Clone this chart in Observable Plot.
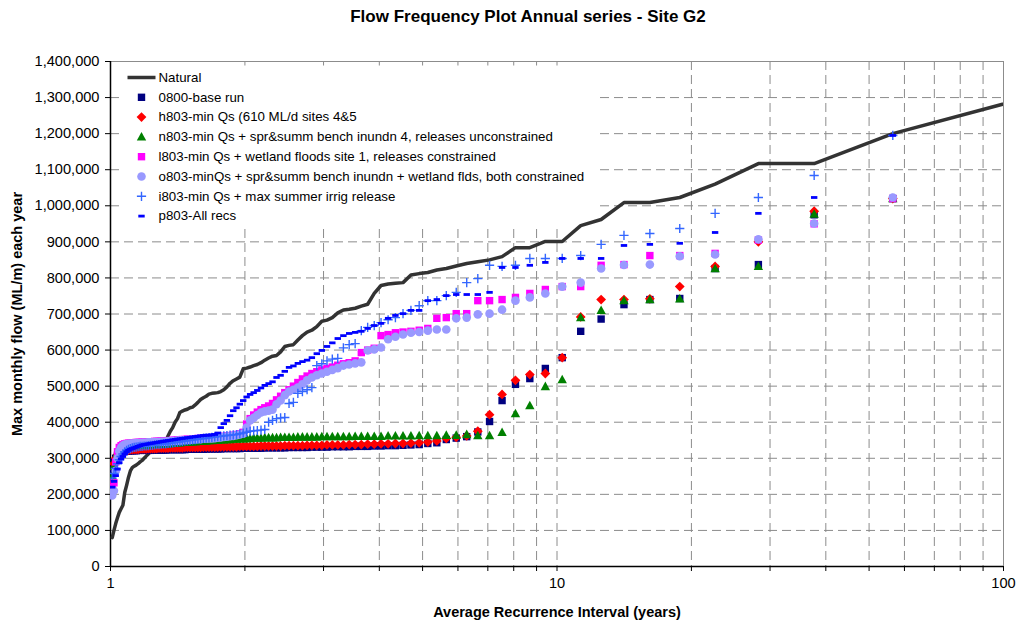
<!DOCTYPE html>
<html><head><meta charset="utf-8">
<script src="https://cdn.jsdelivr.net/npm/d3@7"></script>
<script src="https://cdn.jsdelivr.net/npm/@observablehq/plot@0.6"></script>
<style>
body{margin:0;background:#fff;font-family:Arial,"Liberation Sans",sans-serif;}
#wrap{position:relative;width:1018px;height:623px;}
#title{position:absolute;top:7px;left:228px;width:600px;text-align:center;font-weight:bold;font-size:17px;color:#000;}
</style></head><body>
<div id="wrap"><div id="chart"></div><div id="title">Flow Frequency Plot Annual series - Site G2</div></div>
<script>
// Annual maxima (thousand ML/m), sorted by rank 1..112 (null = point not shown)
const natural = [1300,1200,1117,1117,1060,1023,1009,1009,962,945,
901,901,884,884,859,850,845,840,833,826,
822,815,812,808,787,785,783,779,757,727,
722,716,713,711,703,690,683,680,665,655,
650,640,628,615,613,610,595,585,583,578,
572,565,560,557,553,550,548,525,520,515,
508,498,490,485,482,481,480,478,472,468,
463,455,448,442,440,436,434,431,427,410,
400,385,375,362,345,340,336,332,328,325,
322,318,312,306,300,294,290,285,281,278,
274,265,247,225,205,170,160,150,135,119,
100,80];
const baseRun = [null,1020,975,837,826,743,740,726,686,652,
579,549,521,505,460,402,373,360,356,352,
343,341,338,337,336,335,335,334,334,333,
333,333,332,332,332,332,331,331,331,331,
330,330,330,330,330,329,329,329,329,329,
329,328,328,328,328,328,328,327,327,327,
327,327,327,326,326,326,326,326,326,325,
325,325,325,325,325,325,324,324,324,324,
324,324,324,324,323,323,323,323,323,323,
323,322,322,322,322,322,322,322,321,321,
321,321,320,320,319,318,316,313,308,300,
290,268];
const h803 = [null,1020,985,900,832,776,742,740,740,692,
579,535,532,516,477,421,375,362,358,355,
348,345,343,342,341,341,340,340,339,339,
338,338,338,337,337,337,337,336,336,336,
336,335,335,335,335,335,334,334,334,334,
334,334,333,333,333,333,333,333,332,332,
332,332,332,332,331,331,331,331,331,331,
330,330,330,330,330,330,330,329,329,329,
329,329,329,328,328,328,328,328,327,327,
327,327,327,326,326,326,326,325,325,325,
324,324,323,322,321,320,318,315,310,300,
285,228];
const n803 = [null,1020,977,832,826,742,740,737,710,690,
518,499,446,424,372,363,363,366,364,364,
363,363,363,362,362,362,362,361,361,361,
361,361,360,360,360,360,360,360,359,359,
359,359,359,358,358,358,358,357,357,357,
357,356,356,356,355,355,354,354,353,353,
352,352,351,351,350,350,349,349,348,348,
347,347,346,346,345,345,344,344,343,343,
342,342,341,341,340,340,340,339,339,339,
338,338,338,337,337,337,336,336,336,335,
335,335,334,334,333,332,330,326,318,302,
278,250];
const l803 = [null,1020,950,905,868,862,862,837,835,776,
776,768,757,746,740,737,737,701,701,690,
688,660,655,652,650,648,643,640,605,600,
593,570,565,562,558,553,549,545,540,535,
528,520,510,500,490,482,472,462,452,445,
440,435,428,420,410,395,372,368,366,364,
363,362,361,360,359,358,357,357,356,356,
355,355,354,354,353,353,352,352,351,351,
350,350,349,349,348,348,348,347,347,347,
346,346,346,345,345,345,344,344,344,343,
343,342,342,341,340,338,335,330,318,290,
232,219];
const o803 = [null,1023,951,907,865,860,837,836,826,787,
776,757,746,737,712,701,699,690,688,657,
657,654,650,648,643,637,630,607,602,599,
566,563,560,557,550,545,540,535,530,524,
516,505,496,490,485,475,460,450,435,432,
430,427,420,412,405,385,368,366,364,362,
361,360,359,358,357,356,355,355,354,354,
353,353,352,352,351,351,350,350,349,349,
348,348,347,347,346,346,346,345,345,345,
344,344,344,343,343,343,342,342,342,341,
341,340,340,339,338,335,330,320,300,265,
210,197];
const i803 = [null,1195,1084,1023,979,937,923,918,893,862,
854,854,854,835,832,835,798,787,760,751,
737,737,723,710,701,690,684,676,668,663,
654,618,615,606,577,575,570,562,557,496,
490,485,480,455,452,413,412,410,405,400,
380,378,377,376,375,372,370,368,366,365,
364,363,362,361,360,359,358,357,356,355,
354,353,352,351,350,349,348,347,346,345,
344,343,342,341,340,340,339,338,338,337,
336,336,335,334,334,333,333,332,331,330,
329,327,325,322,318,312,305,296,285,272,
258,245];
const p803 = [null,1195,1023,979,926,896,893,890,854,854,
854,843,835,829,829,760,754,754,754,751,
740,737,710,710,701,696,688,674,668,660,
652,649,646,640,632,620,610,599,590,579,
572,568,563,556,552,541,530,524,512,507,
502,495,488,482,477,470,460,450,440,432,
418,405,396,385,370,366,365,364,364,363,
362,361,360,359,358,357,356,355,354,353,
352,351,350,349,348,347,346,345,344,343,
342,341,340,339,338,337,335,333,331,329,
327,325,322,318,312,305,298,288,270,252,
236,220];

const seriesNames = ["Natural","0800-base run","h803-min Qs (610 ML/d sites 4&5",
 "n803-min Qs + spr&summ bench inundn 4, releases unconstrained",
 "l803-min Qs + wetland floods site 1, releases constrained",
 "o803-minQs + spr&summ bench inundn + wetland flds, both constrained",
 "i803-min Qs + max summer irrig release","p803-All recs"];
const yTicks = [0,100000,200000,300000,400000,500000,600000,700000,800000,900000,1000000,1100000,1200000,1300000,1400000];
const xLabels = [1,10,100];
const xMinor = [2,3,4,5,6,7,8,9,20,30,40,50,60,70,80,90];
const xGrid = [2,3,4,5,6,7,8,9,10,20,30,40,50,60,70,80,90];

// Weibull plotting position: recurrence interval = (years + 1) / rank
const years = natural.length;
function toRows(vals){ const r=[]; vals.forEach((v,i)=>{ if(v!=null) r.push({T:(years+1)/(i+1), flow:v*1000}); }); return r; }

const sym = {
  box:{draw(c){c.rect(0,0,478,162);}},
  line:{draw(c){c.rect(-14,-1.75,28,3.5);}},
  square:{draw(c){c.rect(-3.7,-3.7,7.4,7.4);}},
  diamond:{draw(c){c.moveTo(0,-4.9);c.lineTo(4.9,0);c.lineTo(0,4.9);c.lineTo(-4.9,0);c.closePath();}},
  triangle:{draw(c){c.moveTo(0,-4.9);c.lineTo(4.7,3.7);c.lineTo(-4.7,3.7);c.closePath();}},
  circle:{draw(c){c.moveTo(4.3,0);c.arc(0,0,4.3,0,2*Math.PI);}},
  plus:{draw(c){c.moveTo(-4.6,0);c.lineTo(4.6,0);c.moveTo(0,-4.6);c.lineTo(0,4.6);}},
  dash:{draw(c){c.rect(-3.2,-1.4,6.4,2.8);}}
};
const styles = [
  {vals:baseRun, symbol:sym.square, fill:"#000080"},
  {vals:h803, symbol:sym.diamond, fill:"#ff0000"},
  {vals:n803, symbol:sym.triangle, fill:"#008000"},
  {vals:l803, symbol:sym.square, fill:"#ff00ff"},
  {vals:o803, symbol:sym.circle, fill:"#9999ff"},
  {vals:i803, symbol:sym.plus, fill:"none", stroke:"#3366ff", strokeWidth:1.4},
  {vals:p803, symbol:sym.dash, fill:"#0000ff"}
];

const legendSyms = [
  {symbol:sym.line, fill:"#333333"},
  ...styles.map(s=>({symbol:s.symbol, fill:s.fill, stroke:s.stroke, strokeWidth:s.strokeWidth}))
];

const font = "Arial, 'Liberation Sans', sans-serif";
const marks = [
  Plot.gridY(yTicks, {stroke:"#8c8c8c", strokeOpacity:1, strokeDasharray:"9,5"}),
  Plot.gridX(xGrid, {stroke:"#8c8c8c", strokeOpacity:1, strokeDasharray:"9,5"}),
  Plot.dot(["legend"], {frameAnchor:"top-left", dx:10, dy:4, symbol:sym.box, fill:"#fff", stroke:"none"}),
  Plot.frame({stroke:"#8c8c8c"}),
  Plot.ruleX([1], {stroke:"#000", strokeWidth:1.5}),
  Plot.ruleY([0], {stroke:"#000", strokeWidth:1.5}),
  Plot.axisY(yTicks, {tickFormat:d3.format(","), tickSize:5, tickPadding:6, fontSize:14.6, label:null}),
  Plot.axisX(xLabels, {tickFormat:d=>String(d), tickSize:5, tickPadding:6, fontSize:14.6, label:null}),
  Plot.axisX(xMinor, {tickFormat:()=>"", tickSize:5, label:null}),
  Plot.text(["Max monthly flow (ML/m) each year"], {frameAnchor:"left", dx:-93, rotate:-90, textAnchor:"middle", lineAnchor:"middle", fontWeight:"bold", fontSize:14.5}),
  Plot.text(["Average Recurrence Interval (years)"], {frameAnchor:"bottom", dy:46, textAnchor:"middle", lineAnchor:"middle", fontWeight:"bold", fontSize:14.5}),
  Plot.line(toRows(natural), {x:"T", y:"flow", stroke:"#333333", strokeWidth:3.5, clip:true}),
  ...styles.map(s=>Plot.dot(toRows(s.vals), {x:"T", y:"flow", symbol:s.symbol, fill:s.fill, stroke:s.stroke||"none", strokeWidth:s.strokeWidth||1, r:4, clip:true})),
  ...legendSyms.map((s,i)=>Plot.dot([seriesNames[i]], {frameAnchor:"top-left", dx:31, dy:16+19.8*i, symbol:s.symbol, fill:s.fill, stroke:s.stroke||"none", strokeWidth:s.strokeWidth||1, r:4})),
  ...seriesNames.map((n,i)=>Plot.text([n], {frameAnchor:"top-left", dx:48, dy:16+19.8*i, textAnchor:"start", lineAnchor:"middle", fontSize:13.3}))
];

const chart = Plot.plot({
  width:1018, height:623,
  marginTop:61, marginBottom:57, marginLeft:110, marginRight:15,
  style:{fontFamily:font, fontSize:"14px", color:"#000", background:"#fff"},
  x:{type:"log", domain:[1,100]},
  y:{domain:[0,1400000]},
  marks
});
document.getElementById("chart").appendChild(chart);
</script>
</body></html>
